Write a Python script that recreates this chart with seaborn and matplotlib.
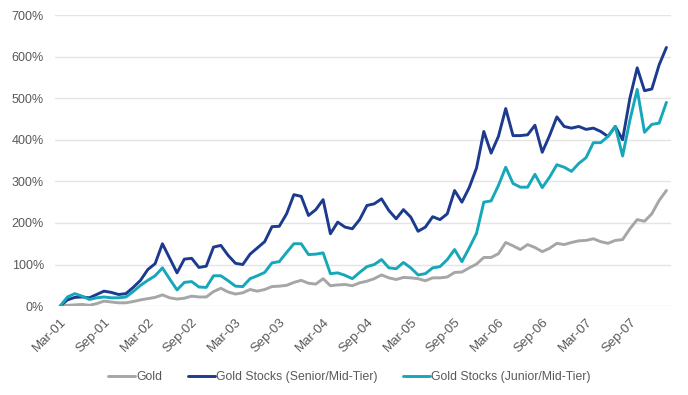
import numpy as np
import pandas as pd
import matplotlib
matplotlib.use("Agg")
import matplotlib.pyplot as plt
import seaborn as sns

# Kinerja kumulatif bulanan, Mar-01 s/d Feb-08 (persen)
gold = [0, 2, 3, 4, 2, 6, 12, 10, 8, 8, 11, 15, 18, 21, 27, 20, 17, 19, 24, 22,
        22, 35, 43, 34, 29, 32, 40, 36, 40, 47, 48, 50, 57, 62, 55, 53, 66, 49, 51, 52,
        49, 56, 60, 66, 75, 68, 64, 69, 68, 66, 61, 68, 68, 70, 81, 82, 92, 101, 117, 117,
        126, 153, 145, 136, 148, 141, 131, 139, 151, 148, 153, 157, 158, 162, 155, 151, 158, 160, 186, 208,
        204, 222, 254, 278]
senior = [0, 15, 21, 22, 20, 28, 36, 33, 28, 30, 45, 62, 88, 102, 150, 115, 80, 113, 115, 93,
          96, 142, 146, 122, 103, 100, 125, 140, 155, 191, 192, 222, 268, 264, 218, 232, 256, 174, 202, 190,
          186, 208, 242, 246, 258, 230, 210, 232, 214, 180, 190, 215, 208, 222, 278, 250, 285, 332, 420, 368,
          408, 475, 410, 410, 412, 435, 370, 410, 455, 432, 428, 432, 425, 428, 420, 408, 432, 400, 500, 573,
          518, 522, 580, 622]
junior = [0, 22, 30, 24, 16, 20, 22, 20, 20, 22, 35, 50, 62, 73, 92, 65, 39, 57, 59, 46,
          45, 73, 73, 61, 48, 47, 66, 73, 81, 104, 107, 129, 150, 150, 124, 125, 128, 78, 80, 74,
          66, 81, 95, 100, 112, 92, 90, 105, 92, 75, 78, 92, 95, 112, 136, 107, 140, 175, 250, 253,
          290, 334, 295, 286, 286, 317, 285, 310, 340, 334, 324, 343, 357, 393, 393, 408, 432, 361, 447, 521,
          418, 437, 440, 490]

tick_labels = ['Mar-01', 'Sep-01', 'Mar-02', 'Sep-02', 'Mar-03', 'Sep-03', 'Mar-04',
               'Sep-04', 'Mar-05', 'Sep-05', 'Mar-06', 'Sep-06', 'Mar-07', 'Sep-07']
y_ticks = [0, 100, 200, 300, 400, 500, 600, 700]

names = ['Gold', 'Gold Stocks (Senior/Mid-Tier)', 'Gold Stocks (Junior/Mid-Tier)']
warna = {names[0]: '#a6a6a6', names[1]: '#1c3a8e', names[2]: '#17a7ba'}

bulan = np.arange(len(gold))
df = pd.DataFrame({'Bulan': bulan, names[0]: gold, names[1]: senior, names[2]: junior})
df_long = df.melt(id_vars='Bulan', var_name='Seri', value_name='Nilai')

sns.set_theme(style='white')
plt.rcParams['font.family'] = ['Liberation Sans', 'DejaVu Sans']

fig = plt.figure(figsize=(6.88, 3.95), dpi=100)
ax = fig.add_axes([0.080, 0.225, 0.895, 0.737])

sns.lineplot(data=df_long, x='Bulan', y='Nilai', hue='Seri', hue_order=names,
             palette=warna, linewidth=2.1, ax=ax, legend=False)

ax.set_xlim(-0.7, 83.6)
ax.set_ylim(0, 700)
ax.set_yticks(y_ticks)
ax.set_yticklabels([f'{v}%' for v in y_ticks], fontsize=9, color='#595959')
ax.set_xticks(np.arange(0, 6 * len(tick_labels), 6))
ax.set_xticklabels(tick_labels, rotation=45, ha='right', rotation_mode='anchor',
                   fontsize=9.5, color='#595959')
ax.tick_params(axis='y', length=0, pad=8)
ax.tick_params(axis='x', length=0, pad=7)
ax.grid(axis='y', color='#e4e4e4', linewidth=1.0)
ax.set_axisbelow(True)
for s in ax.spines.values():
    s.set_visible(False)
ax.set_xlabel('')
ax.set_ylabel('')

handles = [plt.Line2D([], [], color=warna[n], linewidth=2.1) for n in names]
fig.legend(handles, names, loc='center', bbox_to_anchor=(0.508, 0.045), ncol=3,
           frameon=False, fontsize=8.8, handlelength=2.2, handletextpad=0.1,
           columnspacing=2.1, labelcolor='#595959')

plt.savefig('out.png', dpi=100)
